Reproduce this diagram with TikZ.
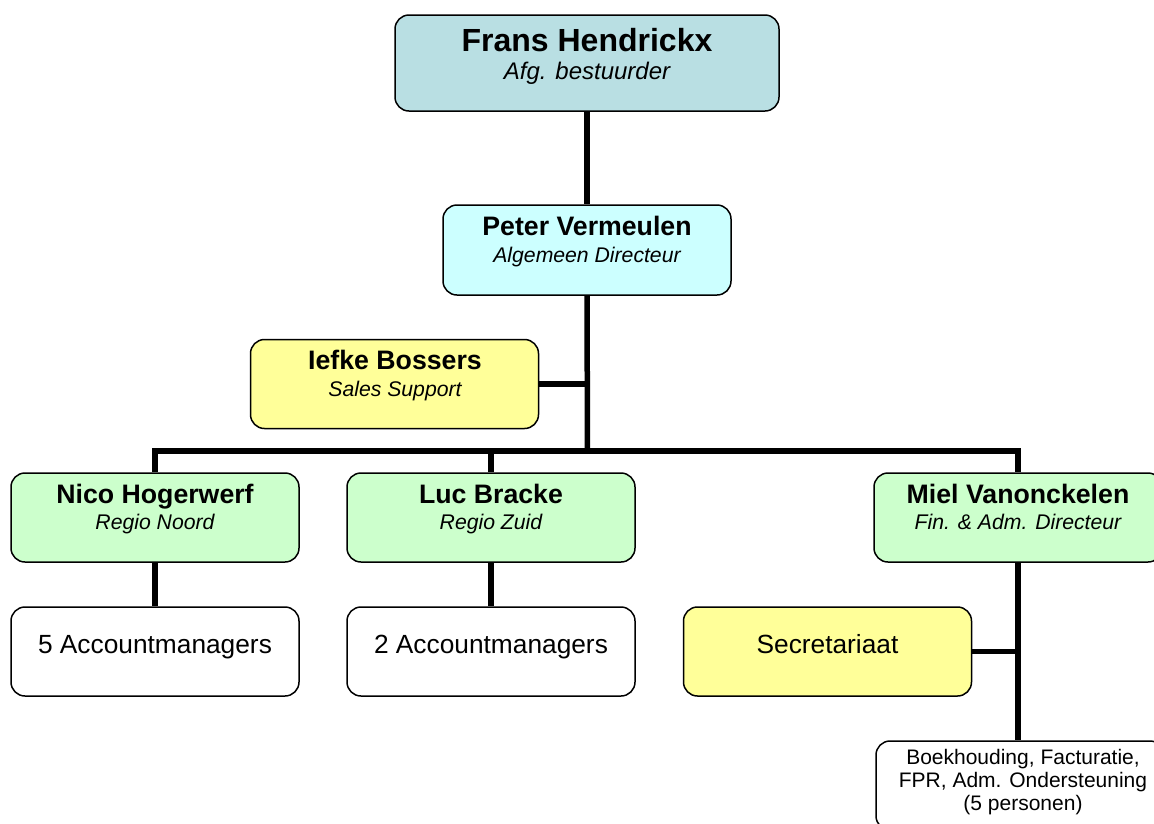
\documentclass[tikz,border=0pt]{standalone}
\usepackage{fontspec}
\setmainfont{Liberation Sans}
\definecolor{cTop}{RGB}{185,223,227}
\definecolor{cCyan}{RGB}{204,255,255}
\definecolor{cYel}{RGB}{255,255,153}
\definecolor{cGrn}{RGB}{204,255,204}
\tikzset{
  box/.style={draw=black, line width=1.5pt, rounded corners=14pt, minimum width=288pt, minimum height=89pt, inner sep=0pt},
  conn/.style={line width=5.5pt, line cap=butt, line join=miter},
  bigttl/.style={anchor=base, inner sep=0pt, font=\fontsize{32}{36}\selectfont\bfseries},
  bigsub/.style={anchor=base, inner sep=0pt, font=\fontsize{24}{28}\selectfont\itshape},
  ttl/.style={anchor=base, inner sep=0pt, font=\fontsize{26.7}{30}\selectfont\bfseries},
  sub/.style={anchor=base, inner sep=0pt, font=\fontsize{21.2}{25}\selectfont\itshape},
  plain/.style={anchor=base, inner sep=0pt, font=\fontsize{26.3}{30}\selectfont},
  small/.style={inner sep=0pt, align=center, font=\fontsize{21}{22.7}\selectfont}
}
\begin{document}
\begin{tikzpicture}[x=1pt,y=-1pt]
\clip (0,0) rectangle (1154,823);
\fill[white] (0,0) rectangle (1154,823);
% boxes
\node[box, fill=cTop, minimum width=384pt, minimum height=96pt] (frans) at (587,63) {};
\node[box, fill=cCyan, minimum height=90pt] (peter) at (587,250) {};
\node[box, fill=cYel] (iefke) at (394.5,384) {};
\node[box, fill=cGrn] (nico) at (155,517.5) {};
\node[box, fill=cGrn] (luc) at (491,517.5) {};
\node[box, fill=cGrn] (miel) at (1018,517.5) {};
\node[box, fill=white] (acc5) at (155,651.5) {};
\node[box, fill=white] (acc2) at (491,651.5) {};
\node[box, fill=cYel] (secr) at (827.5,651.5) {};
\node[box, fill=white] (boek) at (1020,785.5) {};
% texts
\node[bigttl] (fransT) at (587,51) {Frans Hendrickx};
\node[bigsub] (fransS) at (587,79) {Afg. bestuurder};
\node[ttl] (peterT) at (587,235) {Peter Vermeulen};
\node[sub] (peterS) at (587,262) {Algemeen Directeur};
\node[ttl] (iefkeT) at (395,369) {Iefke Bossers};
\node[sub] (iefkeS) at (395,396) {Sales Support};
\node[ttl] (nicoT) at (155,503) {Nico Hogerwerf};
\node[sub] (nicoS) at (155,529) {Regio Noord};
\node[ttl] (lucT) at (491,503) {Luc Bracke};
\node[sub] (lucS) at (491,529) {Regio Zuid};
\node[ttl] (mielT) at (1018,503) {Miel Vanonckelen};
\node[sub] (mielS) at (1018,529) {Fin. \& Adm. Directeur};
\node[plain] (acc5T) at (155,653) {5 Accountmanagers};
\node[plain] (acc2T) at (491,653) {2 Accountmanagers};
\node[plain] (secrT) at (827.5,653) {Secretariaat};
\node[small] (boekT) at (1023,782) {Boekhouding, Facturatie,\\FPR, Adm. Ondersteuning\\(5 personen)};
% connectors
\coordinate (bar) at (587.5,451);
\draw[conn] (frans.south) -- (peter.north);
\draw[conn] (peter.south) -- (bar);
\draw[conn] (iefke.east) -- (iefke.east -| peter.south);
\draw[conn] (nico.north) -- (nico.north |- bar) -- (miel.north |- bar) -- (miel.north);
\draw[conn] (luc.north) -- (luc.north |- bar);
\draw[conn] (nico.south) -- (acc5.north);
\draw[conn] (luc.south) -- (acc2.north);
\draw[conn] (miel.south) -- (miel.south |- boek.north);
\draw[conn] (secr.east) -- (secr.east -| miel.south);
\end{tikzpicture}
\end{document}
